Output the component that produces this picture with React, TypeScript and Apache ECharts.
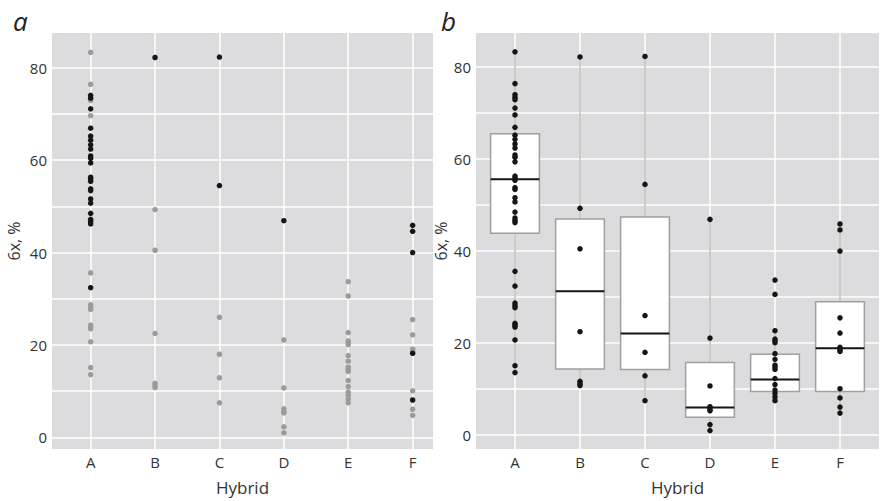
import { useEffect, useRef } from 'react';
import * as echarts from 'echarts';

const hybrids = ['A', 'B', 'C', 'D', 'E', 'F'];
const xPositions = [1, 2, 3, 4, 5, 6];
const yGridValues = [0, 10, 20, 30, 40, 50, 60, 70, 80];
const yLabelValues = [0, 20, 40, 60, 80];

// values per hybrid (6x, %) and group flag (1 = black, 0 = grey in panel a)
const valuesA = [83.3, 76.4, 74.0, 73.4, 72.9, 71.1, 69.6, 66.9, 65.2, 64.3, 63.3, 62.4, 60.9, 60.4, 59.4, 56.3, 55.9, 55.4, 53.8, 53.4, 51.6, 50.7, 48.5, 47.2, 46.7, 46.2, 35.6, 32.4, 28.7, 28.2, 27.7, 24.3, 23.9, 23.5, 20.7, 15.1, 13.6];
const groupsA = [0, 0, 1, 1, 0, 1, 0, 1, 1, 1, 1, 1, 1, 1, 1, 1, 1, 1, 1, 1, 1, 1, 1, 1, 1, 1, 0, 1, 0, 0, 0, 0, 0, 0, 0, 0, 0];
const valuesB = [82.2, 49.3, 40.5, 22.5, 11.7, 11.2, 10.8];
const groupsB = [1, 0, 0, 0, 0, 0, 0];
const valuesC = [82.3, 54.5, 26.0, 18.0, 12.9, 7.5];
const groupsC = [1, 1, 0, 0, 0, 0];
const valuesD = [46.9, 21.1, 10.7, 6.2, 5.6, 5.3, 2.3, 1.0];
const groupsD = [1, 0, 0, 0, 0, 0, 0, 0];
const valuesE = [33.7, 30.6, 22.7, 20.9, 20.5, 20.1, 17.7, 16.5, 15.2, 14.8, 14.3, 12.3, 11.0, 9.8, 9.1, 8.3, 7.5];
const groupsE = [0, 0, 0, 0, 0, 0, 0, 0, 0, 0, 0, 0, 0, 0, 0, 0, 0];
const valuesF = [45.9, 44.6, 40.0, 25.5, 22.2, 19.1, 18.6, 18.2, 10.1, 8.1, 6.1, 4.8];
const groupsF = [1, 1, 1, 0, 0, 0, 0, 1, 0, 1, 0, 0];

// boxplot statistics (panel b)
const boxMin = [13.6, 10.8, 7.5, 1.0, 7.5, 4.8];
const boxQ1 = [43.9, 14.4, 14.3, 3.9, 9.5, 9.5];
const boxMedian = [55.6, 31.3, 22.1, 6.0, 12.1, 18.9];
const boxQ3 = [65.5, 47.0, 47.4, 15.8, 17.6, 29.0];
const boxMax = [83.3, 82.2, 82.3, 46.9, 22.7, 45.9];

const FONT = '"Open Sans", "Noto Sans", sans-serif';
const TEXT = '#333333';
const PANEL = '#dcdcde';

export default function App() {
  const ref = useRef<HTMLDivElement>(null);
  useEffect(() => {
    const chart = echarts.init(ref.current as HTMLDivElement, null, { renderer: 'svg' });
    const allValues = [valuesA, valuesB, valuesC, valuesD, valuesE, valuesF];
    const allGroups = [groupsA, groupsB, groupsC, groupsD, groupsE, groupsF];
    const grey: number[][] = [];
    const black: number[][] = [];
    const right: number[][] = [];
    allValues.forEach((vals, i) => {
      vals.forEach((v, j) => {
        const p = [xPositions[i], v];
        if (allGroups[i][j]) black.push(p);
        else grey.push(p);
        right.push(p);
      });
    });
    const boxData = hybrids.map((_, i) => [xPositions[i], boxMin[i], boxQ1[i], boxMedian[i], boxQ3[i], boxMax[i]]);

    const xAxisBase = (grid: number, max: number) => ({
      gridIndex: grid,
      type: 'value',
      min: 0.4,
      max,
      axisLine: { show: false },
      axisTick: { show: false, customValues: xPositions },
      axisLabel: {
        customValues: xPositions,
        formatter: (v: number) => hybrids[Math.round(v) - 1] ?? '',
        color: TEXT,
        fontSize: 15,
        fontFamily: FONT,
        margin: 5,
      },
      splitLine: { show: true, lineStyle: { color: '#ffffff', width: 1.5 } },
      name: 'Hybrid',
      nameLocation: 'middle',
      nameGap: 30,
      nameTextStyle: { color: TEXT, fontSize: 17, fontFamily: FONT },
    });
    const yAxisBase = (grid: number, min: number, max: number, gap: number) => ({
      gridIndex: grid,
      type: 'value',
      min,
      max,
      axisLine: { show: false },
      axisTick: { show: false, customValues: yGridValues },
      axisLabel: {
        customValues: yLabelValues,
        color: TEXT,
        fontSize: 15,
        fontFamily: FONT,
        margin: 5,
      },
      splitLine: { show: true, lineStyle: { color: '#ffffff', width: 1.5 } },
      name: '6x, %',
      nameLocation: 'middle',
      nameRotate: 90,
      nameGap: gap,
      nameTextStyle: { color: TEXT, fontSize: 16, fontFamily: FONT },
    });

    chart.setOption({
      animation: false,
      backgroundColor: '#ffffff',
      grid: [
        { left: 52, top: 33, width: 381, height: 418, show: true, backgroundColor: PANEL, borderWidth: 0 },
        { left: 476, top: 33, width: 403, height: 418, show: true, backgroundColor: PANEL, borderWidth: 0 },
      ],
      xAxis: [xAxisBase(0, 6.316), xAxisBase(1, 6.6)],
      yAxis: [yAxisBase(0, -2.5, 87.5, 30), yAxisBase(1, -3.0, 87.4, 27)],
      graphic: [
        { type: 'text', left: 13, top: 8, style: { text: 'a', fontSize: 26, fontStyle: 'italic', fontFamily: FONT, fill: '#222' } },
        { type: 'text', left: 441, top: 8, style: { text: 'b', fontSize: 26, fontStyle: 'italic', fontFamily: FONT, fill: '#222' } },
      ],
      series: [
        {
          type: 'scatter', xAxisIndex: 0, yAxisIndex: 0, data: grey, symbolSize: 5.5,
          itemStyle: { color: '#9b9b9b', opacity: 1 }, z: 3,
        },
        {
          type: 'scatter', xAxisIndex: 0, yAxisIndex: 0, data: black, symbolSize: 5.5,
          itemStyle: { color: '#151515', opacity: 1 }, z: 4,
        },
        {
          type: 'custom', xAxisIndex: 1, yAxisIndex: 1, data: boxData, z: 2,
          encode: { x: 0, y: [1, 2, 3, 4, 5] },
          renderItem: (_params: any, api: any) => {
            const x = api.value(0);
            const lo = api.coord([x, api.value(1)]);
            const q1 = api.coord([x, api.value(2)]);
            const md = api.coord([x, api.value(3)]);
            const q3 = api.coord([x, api.value(4)]);
            const hi = api.coord([x, api.value(5)]);
            const w = api.size([0.75, 0])[0];
            const half = w / 2;
            const whisker = { stroke: '#a0a0a0', lineWidth: 1 };
            return {
              type: 'group',
              children: [
                { type: 'line', shape: { x1: lo[0], y1: lo[1], x2: q1[0], y2: q1[1] }, style: whisker },
                { type: 'line', shape: { x1: q3[0], y1: q3[1], x2: hi[0], y2: hi[1] }, style: whisker },
                { type: 'rect', shape: { x: q3[0] - half, y: q3[1], width: w, height: q1[1] - q3[1] }, style: { fill: '#ffffff', stroke: '#a0a0a0', lineWidth: 1.5 } },
                { type: 'line', shape: { x1: md[0] - half, y1: md[1], x2: md[0] + half, y2: md[1] }, style: { stroke: '#151515', lineWidth: 2 } },
              ],
            };
          },
        },
        {
          type: 'scatter', xAxisIndex: 1, yAxisIndex: 1, data: right, symbolSize: 5.5,
          itemStyle: { color: '#151515', opacity: 1 }, z: 4,
        },
      ],
    });
    return () => chart.dispose();
  }, []);
  return <div ref={ref} style={{ position: 'fixed', left: 0, top: 0, width: 883, height: 501 }} />;
}
